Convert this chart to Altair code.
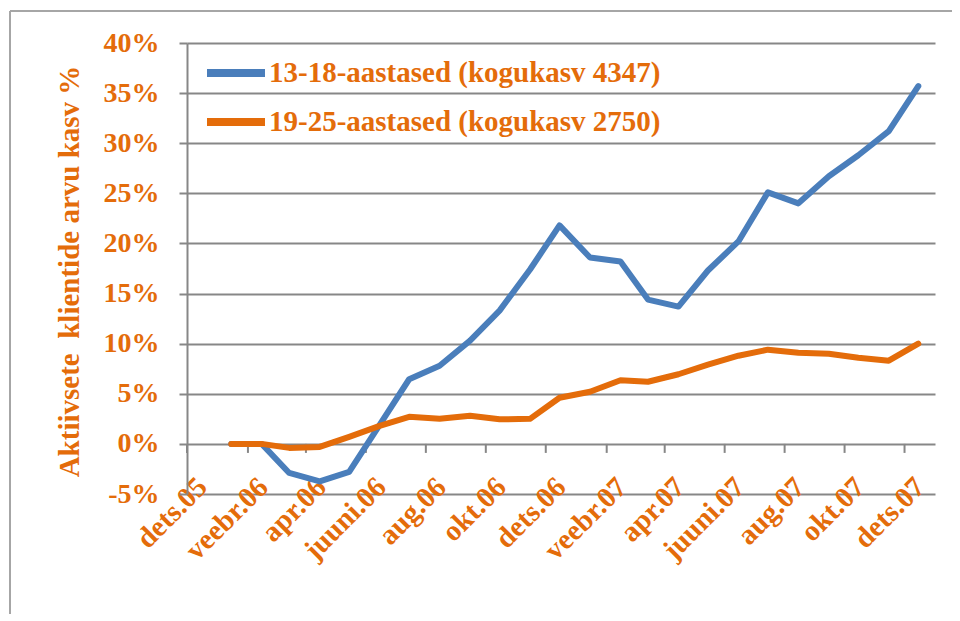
import altair as alt
import pandas as pd

# ---- data ----
months = ["2006-01-15", "2006-02-15", "2006-03-15", "2006-04-15", "2006-05-15", "2006-06-15",
          "2006-07-15", "2006-08-15", "2006-09-15", "2006-10-15", "2006-11-15", "2006-12-15",
          "2007-01-15", "2007-02-15", "2007-03-15", "2007-04-15", "2007-05-15", "2007-06-15",
          "2007-07-15", "2007-08-15", "2007-09-15", "2007-10-15", "2007-11-15", "2007-12-15"]
teen = [0.0, 0.0, -2.9, -3.75, -2.8, 1.9, 6.45, 7.8, 10.3, 13.3, 17.4, 21.8,
        18.6, 18.2, 14.4, 13.7, 17.3, 20.2, 25.1, 24.0, 26.7, 28.8, 31.2, 35.7]
young = [0.0, 0.0, -0.4, -0.3, 0.7, 1.8, 2.7, 2.5, 2.8, 2.45, 2.5, 4.6,
         5.2, 6.35, 6.2, 6.95, 7.9, 8.8, 9.4, 9.1, 9.0, 8.6, 8.3, 10.0]
series_names = ["13-18-aastased (kogukasv 4347)", "19-25-aastased (kogukasv 2750)"]
tick_dates = ["2005-12-01", "2006-02-01", "2006-04-01", "2006-06-01", "2006-08-01", "2006-10-01",
              "2006-12-01", "2007-02-01", "2007-04-01", "2007-06-01", "2007-08-01", "2007-10-01",
              "2007-12-01"]
month_names = ["jaan", "veebr", "märts", "apr", "mai", "juuni", "juuli", "aug", "sept",
               "okt", "nov", "dets"]
y_ticks = [-5, 0, 5, 10, 15, 20, 25, 30, 35, 40]
y_title = "Aktiivsete\u00a0 klientide arvu kasv %"

BLUE = "#4A7EBB"
ORANGE = "#E46C0A"
GRID = "#878787"
FONT = "Liberation Serif"

df = pd.DataFrame({
    "date": months * 2,
    "value": teen + young,
    "series": [series_names[0]] * len(months) + [series_names[1]] * len(months),
})
ticks_df = pd.DataFrame({"date": tick_dates, "top": [0] * len(tick_dates),
                         "bottom": [-0.9] * len(tick_dates)})


def dt(s):
    y, m, d = (int(p) for p in s.split("-"))
    return alt.DateTime(year=y, month=m, date=d, utc=True)


x_scale = alt.Scale(type="utc", domain=[dt("2005-12-01"), dt("2008-01-01")])
y_scale = alt.Scale(domain=[-5, 40], nice=False, zero=False)

label_expr = ("[" + ",".join("'%s'" % m for m in month_names) + "][utcmonth(datum.value)]"
              " + '.' + utcFormat(datum.value, '%y')")

x_axis = alt.Axis(
    values=[dt(d) for d in tick_dates],
    labelExpr=label_expr,
    labelAngle=-45,
    labelAlign="right",
    labelBaseline="middle",
    labelPadding=-12,
    labelOffset=15,
    labelFont=FONT, labelFontSize=29, labelFontWeight="bold", labelColor=ORANGE,
    labelOverlap=False, labelFlush=False,
    ticks=False, domain=False, grid=False, title=None,
)

y_axis = alt.Axis(
    values=y_ticks,
    labelExpr="datum.value + '%'",
    labelFont=FONT, labelFontSize=28, labelFontWeight="bold", labelColor=ORANGE,
    labelPadding=20,
    tickSize=8, tickColor=GRID, tickWidth=2,
    domainColor=GRID, domainWidth=2,
    grid=True, gridColor=GRID, gridWidth=2,
    title=y_title,
    titleFont=FONT, titleFontSize=29, titleFontWeight="bold", titleColor=ORANGE,
    titleAngle=270, titleAlign="center", titleBaseline="alphabetic",
    titleX=-109, titleY=228,
)

lines = alt.Chart(df).mark_line(strokeWidth=6, strokeCap="round", strokeJoin="round").encode(
    x=alt.X("date:T", scale=x_scale, axis=x_axis),
    y=alt.Y("value:Q", scale=y_scale, axis=y_axis),
    color=alt.Color(
        "series:N",
        scale=alt.Scale(domain=series_names, range=[BLUE, ORANGE]),
        legend=alt.Legend(
            orient="none", legendX=16, legendY=-3, title=None, padding=0,
            symbolType="stroke", symbolStrokeWidth=8, symbolSize=3364,
            labelFont=FONT, labelFontSize=29, labelFontWeight="bold", labelColor=ORANGE,
            labelLimit=0, labelOffset=0, rowPadding=-1,
        ),
    ),
    order=alt.Order("date:T"),
)

tick_marks = alt.Chart(ticks_df).mark_rule(color=GRID, strokeWidth=2).encode(
    x=alt.X("date:T", scale=x_scale),
    y=alt.Y("top:Q", scale=y_scale),
    y2="bottom:Q",
)

frame_left = alt.Chart(ticks_df).mark_rule(color="#A6A6A6", strokeWidth=2).encode(
    x=alt.value(-177), y=alt.value(-32), y2=alt.value(620)
)
frame_top = alt.Chart(ticks_df).mark_rule(color="#A6A6A6", strokeWidth=2).encode(
    x=alt.value(-177), x2=alt.value(800), y=alt.value(-32)
)

chart = alt.layer(frame_left, frame_top, tick_marks, lines).properties(
    width=748, height=451,
    autosize=alt.AutoSizeParams(type="none"),
    padding={"left": 179, "top": 35, "right": 17, "bottom": 120},
).configure_view(stroke=None)

chart.save("out.html", embed_options={"renderer": "svg", "actions": False})
